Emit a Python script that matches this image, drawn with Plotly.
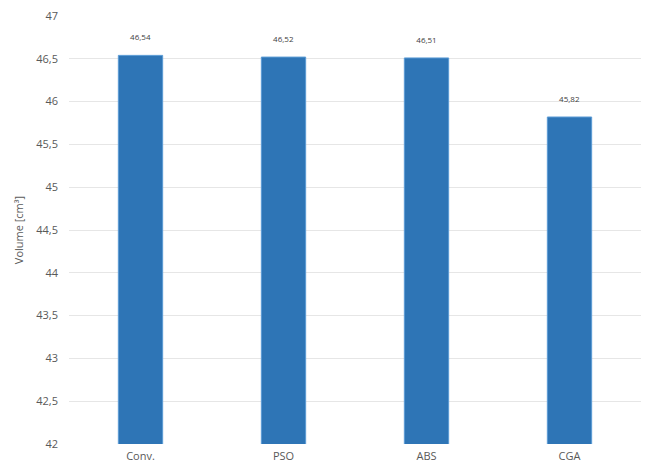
import plotly.graph_objects as go

# Data
methods = ['Conv.', 'PSO', 'ABS', 'CGA']
volumes = [46.54, 46.52, 46.51, 45.82]

fig = go.Figure()

fig.add_trace(go.Bar(
    x=methods,
    y=volumes,
    marker=dict(color='#2E75B6', line=dict(color='#5b9bd5', width=1)),
    texttemplate='%{y:.2f}<br> ',
    textposition='outside',
    textfont=dict(size=8, color='#404040'),
    cliponaxis=False,
    width=0.31,
))

fig.update_layout(
    width=650,
    height=476,
    margin=dict(l=61, r=17, t=8, b=40, autoexpand=False),
    paper_bgcolor='white',
    plot_bgcolor='white',
    separators=', ',
    font=dict(family='Open Sans, sans-serif', size=11, color='#595959'),
    showlegend=False,
    yaxis=dict(
        range=[42, 47],
        dtick=0.5,
        showgrid=True,
        gridcolor='#e6e6e6',
        gridwidth=1,
        zeroline=False,
        showline=False,
        ticks='',
        automargin=False,
        ticklabeloverflow='allow',
        ticklabelstandoff=10,
        title=dict(text='Volume [cm³]', font=dict(size=11, color='#595959'), standoff=10),
    ),
    xaxis=dict(
        showline=False,
        ticks='',
        showgrid=False,
        automargin=False,
        ticklabelstandoff=4,
        tickfont=dict(size=11, color='#595959'),
    ),
)

fig.write_html("out.html")
